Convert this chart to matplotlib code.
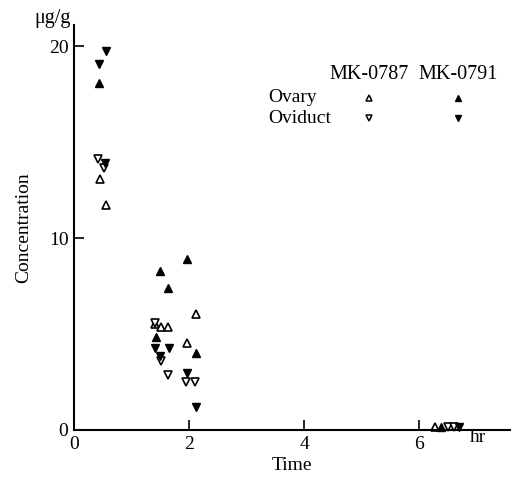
import matplotlib.pyplot as plt

plt.rcParams['font.family'] = ['Liberation Serif', 'DejaVu Serif']

# MK-0787 (open markers), MK-0791 (filled markers)
# Ovary: up triangles, Oviduct: down triangles
ovary_0787_t = [0.45, 0.55, 1.41, 1.52, 1.63, 1.96, 2.12, 6.28]
ovary_0787_c = [13.1, 11.7, 5.5, 5.35, 5.35, 4.55, 6.04, 0.15]

oviduct_0787_t = [0.42, 0.52, 1.41, 1.51, 1.64, 1.95, 2.10, 6.51, 6.60]
oviduct_0787_c = [14.1, 13.65, 5.6, 3.6, 2.86, 2.48, 2.48, 0.15, 0.15]

ovary_0791_t = [0.44, 1.43, 1.50, 1.64, 1.97, 2.12, 6.39]
ovary_0791_c = [18.1, 4.86, 8.3, 7.38, 8.9, 4.0, 0.15]

oviduct_0791_t = [0.55, 0.44, 0.54, 1.41, 1.50, 1.65, 1.97, 2.12, 6.70]
oviduct_0791_c = [19.75, 19.05, 13.9, 4.29, 3.85, 4.29, 2.98, 1.18, 0.15]

fig = plt.figure(figsize=(5.14, 4.79), dpi=100)
ax = fig.add_axes([0.144, 0.1023, 0.848, 0.8455])

ms = 6.2
ax.plot(ovary_0787_t, ovary_0787_c, '^', ms=ms, mfc='white', mec='black', mew=1.2, clip_on=False)
ax.plot(oviduct_0787_t, oviduct_0787_c, 'v', ms=ms, mfc='white', mec='black', mew=1.2, clip_on=False)
ax.plot(ovary_0791_t, ovary_0791_c, '^', ms=ms, color='black', clip_on=False)
ax.plot(oviduct_0791_t, oviduct_0791_c, 'v', ms=ms, color='black', clip_on=False)

# legend drawn as in the original
ax.text(5.13, 18.5, 'MK-0787', ha='center', va='center', fontsize=14.5)
ax.text(6.68, 18.5, 'MK-0791', ha='center', va='center', fontsize=14.5)
ax.text(3.38, 17.3, 'Ovary', ha='left', va='center', fontsize=14)
ax.text(3.38, 16.25, 'Oviduct', ha='left', va='center', fontsize=14)
ax.plot([5.13], [17.3], '^', ms=5, mfc='white', mec='black', mew=1.1)
ax.plot([5.13], [16.25], 'v', ms=5, mfc='white', mec='black', mew=1.1)
ax.plot([6.68], [17.3], '^', ms=5, color='black')
ax.plot([6.68], [16.25], 'v', ms=5, color='black')

ax.set_xlim(0, 7.58)
ax.set_ylim(0, 21.1)
ax.set_xticks([0, 2, 4, 6])
ax.set_yticks([0, 10, 20])
ax.tick_params(direction='in', length=7, width=1.2, labelsize=14, pad=4)
for s in ['top', 'right']:
    ax.spines[s].set_visible(False)
for s in ['left', 'bottom']:
    ax.spines[s].set_linewidth(1.5)

ax.set_xlabel('Time', fontsize=14, labelpad=3)
ax.set_ylabel('Concentration', fontsize=14, labelpad=12)
fig.text(0.066, 0.962, 'μg/g', fontsize=14.5, ha='left', va='center')
fig.text(0.93, 0.087, 'hr', fontsize=14, ha='center', va='center')

fig.savefig('out.png', dpi=100)
